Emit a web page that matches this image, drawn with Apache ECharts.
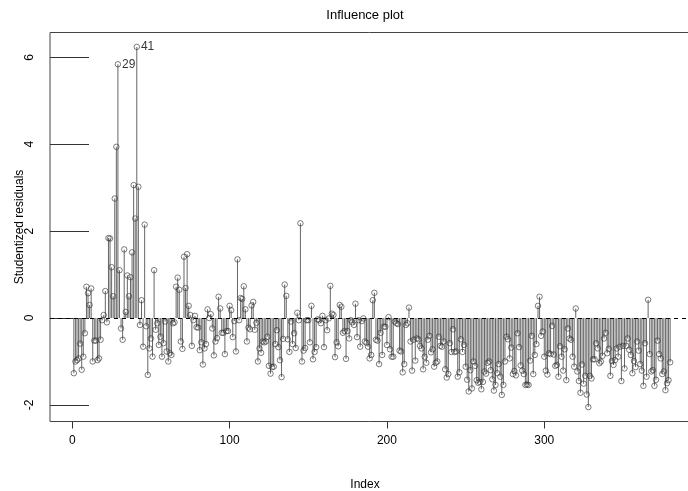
<!DOCTYPE html>
<html>
<head>
<meta charset="utf-8">
<script src="https://cdn.jsdelivr.net/npm/echarts@6/dist/echarts.min.js"></script>
<style>
  html, body { margin: 0; padding: 0; background: #fff; }
  #chart { width: 688px; height: 491px; }
</style>
</head>
<body>
<div id="chart"></div>
<script>
// ---- data ----
const chartTitle = 'Influence plot';
const xAxisName = 'Index';
const yAxisName = 'Studentized residuals';
const xTickValues = [0, 100, 200, 300];
const yTickValues = [-2, 0, 2, 4, 6];
const labelledIndices = [29, 41];

const residuals = [
  -1.27, -1.0, -0.97, -0.93, -0.59, -1.19, -0.89, -0.35, 0.72, 0.57,
  0.30, 0.68, -1.0, -0.52, -0.52, -0.97, -0.93, -0.5, -0.05, 0.07,
  0.62, -0.1, 1.84, 1.83, 1.17, 0.5, 2.75, 3.94, 5.84, 1.1,
  -0.24, -0.5, 1.58, 0.14, 0.98, 0.5, 0.94, 1.51, 3.06, 2.29,
  6.24, 3.02, -0.16, 0.41, -0.66, 2.15, -0.19, -1.31, -0.7, -0.47,
  -0.89, 1.1, -0.27, -0.12, -0.62, -0.43, -0.89, -0.58, -0.08, -0.77,
  -1.0, -0.81, -0.85, -0.12, -0.1, 0.72, 0.93, 0.65, -0.54, -0.71,
  1.41, 0.69, 1.47, 0.28, 0.07, -0.64, -0.05, 0.05, -0.21, -0.22,
  -0.74, -0.56, -1.07, -0.7, -0.6, 0.2, 0.0, 0.09, -0.24, -0.86,
  -0.54, -0.46, 0.49, 0.22, -0.34, -0.34, -0.83, -0.3, -0.3, 0.28,
  0.18, -0.44, -0.07, -0.77, 1.35, -0.05, 0.46, 0.44, 0.73, 0.2,
  -0.54, -0.22, -0.26, 0.29, 0.37, -0.27, -0.11, -1.0, -0.7, -0.8,
  -0.54, -0.56, -0.54, -0.43, -1.1, -1.28, -1.13, -1.12, -0.6, -0.28,
  -0.67, -0.97, -1.36, -0.48, 0.77, 0.51, -0.49, -0.78, -0.08, -0.6,
  -0.35, -0.69, 0.12, -0.05, 2.18, -1.0, -0.75, -0.69, -0.05, -0.05,
  -0.56, 0.28, -0.95, -0.78, -0.67, -0.03, -0.05, -0.12, 0.05, -0.67,
  -0.05, -0.28, -0.01, 0.74, 0.1, 0.07, -0.9, -0.56, -0.65, 0.3,
  0.26, -0.34, -0.3, -0.94, -0.3, -0.47, -0.05, -0.1, -0.16, 0.33,
  -0.44, -0.05, -0.66, -0.07, -0.01, -0.54, -0.57, -0.66, -0.93, -0.85,
  0.41, 0.58, -0.5, -0.52, -1.06, -0.34, -0.85, -0.2, -0.2, -0.62,
  0.02, -0.72, -0.89, -0.89, -0.08, -0.12, -0.14, -0.75, -0.77, -1.25,
  -1.06, -0.16, -0.12, 0.24, -0.54, -1.21, -0.5, -0.98, -0.47, -0.49,
  -0.64, -0.7, -1.18, -0.89, -1.03, -0.5, -0.41, -0.79, -0.72, -1.12,
  -1.03, -1.0, -0.43, -0.64, -0.66, -0.54, -1.18, -1.37, -1.29, -0.58,
  -0.78, -0.26, -0.78, -0.77, -1.35, -1.25, -0.49, -0.78, -0.62, -1.12,
  -1.42, -1.69, -1.2, -1.62, -1.0, -1.1, -1.43, -1.49, -1.47, -1.64,
  -1.47, -1.23, -1.28, -1.03, -1.0, -1.2, -1.41, -1.67, -1.54, -1.27,
  -1.06, -1.35, -1.77, -1.54, -1.0, -0.43, -0.49, -0.93, -0.68, -1.29,
  -1.22, -1.32, -0.35, -0.67, -1.09, -1.21, -1.29, -1.54, -1.53, -1.54,
  -0.98, -0.41, -1.29, -0.85, -0.6, 0.28, 0.49, -0.41, -0.31, -0.89,
  -1.21, -1.3, -0.81, -0.83, -0.18, -0.84, -1.1, -1.08, -1.35, -0.65,
  -0.89, -1.21, -0.72, -1.43, -0.24, -0.47, -0.5, -0.89, -1.12, 0.22,
  -1.23, -1.45, -1.72, -1.07, -1.51, -1.33, -1.76, -2.05, -1.33, -1.39,
  -0.95, -0.95, -0.58, -0.7, -1.04, -1.0, -0.87, -0.47, -0.34, -0.81,
  -0.71, -1.33, -0.99, -1.08, -0.97, -0.7, -0.89, -0.66, -1.45, -0.64,
  -1.16, -0.64, -0.47, -0.73, -0.85, -1.27, -0.99, -1.13, -0.54, -0.75,
  -1.06, -1.21, -1.56, -0.58, -1.35, 0.42, -0.83, -1.23, -1.2, -1.56,
  -1.42, -0.52, -0.83, -0.93, -1.29, -1.23, -1.66, -1.5, -1.43, -1.02
];

// ---- build ----
const FONT = "'Liberation Sans', Arimo, Helvetica, Arial, sans-serif";
const n = residuals.length;
const pts = residuals.map((v, i) => [i + 1, v]);
const xPad = (n - 1) * 0.04;
const yMin = Math.min(...residuals), yMax = Math.max(...residuals);
const yPad = (yMax - yMin) * 0.04;

const scatterData = pts.map(p => {
  const item = { value: p };
  if (labelledIndices.includes(p[0])) {
    item.label = { show: true, formatter: String(p[0]) };
  }
  return item;
});

const chart = echarts.init(document.getElementById('chart'), null, { renderer: 'canvas' });
chart.setOption({
  animation: false,
  backgroundColor: '#ffffff',
  textStyle: { fontFamily: FONT },
  title: [
    { text: chartTitle, left: 360, top: 4, textAlign: 'center',
      textStyle: { fontFamily: FONT, fontSize: 13, fontWeight: 'normal', color: '#000' } },
    { text: xAxisName, left: 360, top: 474, textAlign: 'center',
      textStyle: { fontFamily: FONT, fontSize: 12, fontWeight: 'normal', color: '#000' } }
  ],
  grid: { left: 50, top: 32.5, width: 644, height: 389, show: true,
          outerBoundsMode: 'none', containLabel: false,
          borderColor: '#444', borderWidth: 1, backgroundColor: 'transparent' },
  xAxis: {
    type: 'value', min: 1 - xPad, max: n + xPad, position: 'bottom',
    axisLine: { show: false, onZero: false },
    splitLine: { show: false },
    axisTick: { show: true, length: 7, lineStyle: { color: '#333' }, customValues: xTickValues },
    axisLabel: { show: true, color: '#000', fontSize: 12, fontFamily: FONT, margin: 13, customValues: xTickValues }
  },
  yAxis: {
    type: 'value', min: yMin - yPad, max: yMax + yPad, position: 'left',
    name: yAxisName, nameLocation: 'middle', nameRotate: 90, nameGap: 24,
    nameMoveOverlap: false,
    nameTextStyle: { color: '#000', fontSize: 12, fontFamily: FONT },
    axisLine: { show: false, onZero: false },
    splitLine: { show: false },
    axisTick: { show: true, inside: true, length: 39, lineStyle: { color: '#333' }, customValues: yTickValues },
    axisLabel: { show: true, color: '#000', fontSize: 12, fontFamily: FONT, rotate: 90, margin: 14, customValues: yTickValues }
  },
  series: [
    {
      type: 'bar', data: pts, barWidth: 1, silent: true,
      itemStyle: { color: '#666' },
      markLine: {
        silent: true, symbol: 'none',
        label: { show: false },
        lineStyle: { type: [4, 4], color: '#000', width: 1 },
        data: [{ yAxis: 0 }]
      }
    },
    {
      type: 'scatter', data: scatterData, symbol: 'circle', symbolSize: 5.5,
      itemStyle: { color: 'rgba(255,255,255,0)', borderColor: '#333', borderWidth: 0.8 },
      label: { show: false, position: 'right', distance: 1, color: '#000', fontSize: 12, fontFamily: FONT },
      z: 3
    }
  ]
});
</script>
</body>
</html>
